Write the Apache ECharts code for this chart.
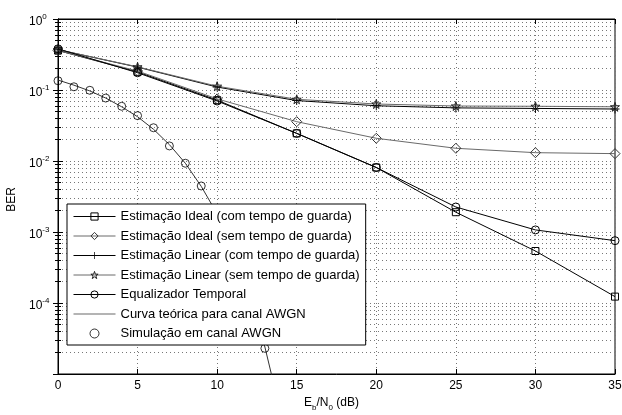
<!DOCTYPE html>
<html>
<head>
<meta charset="utf-8">
<script src="https://cdn.jsdelivr.net/npm/echarts@6/dist/echarts.min.js"></script>
<style>html,body{margin:0;padding:0;background:#fff}#c{width:622px;height:415px}</style>
</head>
<body>
<div id="c"></div>
<script>
// ---- data ----
var snrOfdm = [0, 5, 10, 15, 20, 25, 30, 35];
var idealCom = [0.36, 0.18, 0.072, 0.0245, 0.0081, 0.0019, 0.00054, 0.000123];
var idealSem = [0.36, 0.185, 0.075, 0.0358, 0.0209, 0.0151, 0.0131, 0.0127];
var linearCom = [0.37, 0.21, 0.11, 0.071, 0.060, 0.056, 0.055, 0.054];
var linearSem = [0.37, 0.212, 0.113, 0.074, 0.0635, 0.0595, 0.059, 0.058];
var equalizador = [0.38, 0.175, 0.070, 0.0245, 0.0081, 0.00225, 0.00107, 0.000755];
var snrAwgn = [0, 1, 2, 3, 4, 5, 6, 7, 8, 9, 10, 11, 12, 13, 14];
var awgnTeoria = [0.138, 0.117, 0.097, 0.077, 0.058, 0.042, 0.028, 0.017, 0.0093, 0.0044, 0.0018, 0.00057, 0.00014, 0.000024, 0.0000028];
var snrSim = [0, 1, 2, 3, 4, 5, 6, 7, 8, 9, 10, 11, 12, 13];
var awgnSim = [0.135, 0.111, 0.099, 0.077, 0.059, 0.0435, 0.0294, 0.0163, 0.0093, 0.00445, 0.0018, 0.00058, 0.00014, 0.000023];
var xTicks = [0, 5, 10, 15, 20, 25, 30, 35];
var seriesNames = [
  'Estimação Ideal (com tempo de guarda)',
  'Estimação Ideal (sem tempo de guarda)',
  'Estimação Linear (com tempo de guarda)',
  'Estimação Linear (sem tempo de guarda)',
  'Equalizador Temporal',
  'Curva teórica para canal AWGN',
  'Simulação em canal AWGN'
];

function pairs(xs, ys) { return xs.map(function (x, i) { return [x, ys[i]]; }); }

var FONT = 'Liberation Sans';
var BLACK = '#000';
var GRAY = '#6a6a6a';
var NOFILL = 'rgba(255,255,255,0)';
var plusPath = 'path://M4.5,0H5.5V4.5H10V5.5H5.5V10H4.5V5.5H0V4.5H4.5Z';
var starPath = 'path://M0,-1L0.2245,-0.309L0.951,-0.309L0.363,0.118L0.588,0.809L0,0.382L-0.588,0.809L-0.363,0.118L-0.951,-0.309L-0.2245,-0.309Z';

var gridDot = { color: '#777', width: 1, type: [1, 3] };

function supLabel(v) {
  var e = Math.round(Math.log10(v));
  return '{b|10}{s|' + e + '}';
}
var supRich = {
  b: { fontSize: 12, fontFamily: FONT, color: '#000', lineHeight: 12, padding: [5, 0, 0, 0] },
  s: { fontSize: 8, fontFamily: FONT, color: '#000', lineHeight: 8, verticalAlign: 'top' }
};

function lineSeries(name, ys, color, symbol, fill, stroke, size) {
  return {
    name: name, type: 'line', data: pairs(snrOfdm, ys),
    symbol: symbol, symbolSize: size, showAllSymbol: true,
    lineStyle: { color: color, width: 1 },
    itemStyle: { color: fill, borderColor: stroke, borderWidth: stroke ? 1 : 0 },
    emphasis: { disabled: true }, animation: false, z: 3
  };
}

var option = {
  animation: false,
  backgroundColor: '#fff',
  textStyle: { fontFamily: FONT },
  grid: { left: 58, right: 7, top: 19, bottom: 41, show: true, borderColor: '#000', borderWidth: 1, backgroundColor: 'transparent', containLabel: false, outerBoundsMode: 'none' },
  legend: {
    orient: 'vertical', left: 67, top: 204,
    backgroundColor: '#fff', borderColor: '#000', borderWidth: 1, borderRadius: 0,
    padding: [6, 6, 5, 6],
    itemWidth: 42, itemHeight: 9, itemGap: 6.5,
    lineStyle: { width: 1 },
    itemStyle: { borderWidth: 1 },
    textStyle: { fontFamily: FONT, fontSize: 13, color: '#000' },
    selectedMode: false,
    data: seriesNames.map(function (n, i) {
      if (i === 5) return { name: n, icon: 'path://M0,0H42V1H0Z', itemStyle: { color: GRAY, borderWidth: 0 } };
      return { name: n };
    })
  },
  xAxis: [{
    type: 'value', min: 0, max: 35, interval: 5,
    name: '{b|E}{s|b}{b|/N}{s|0}{b| (dB)}', nameLocation: 'middle', nameGap: 25,
    nameTextStyle: {
      padding: [0, 10, 0, 0],
      rich: {
        b: { fontSize: 12, fontFamily: FONT, color: '#000', lineHeight: 12, padding: [0, 0, 6, 0] },
        s: { fontSize: 8, fontFamily: FONT, color: '#000', lineHeight: 8, verticalAlign: 'bottom' }
      }
    },
    axisLine: { show: true, lineStyle: { color: '#000' } },
    axisTick: { inside: true, length: 5, lineStyle: { color: '#000' } },
    axisLabel: { color: '#000', fontSize: 12, fontFamily: FONT, margin: 6 },
    splitLine: { show: true, lineStyle: gridDot }
  }, {
    type: 'value', min: 0, max: 35, interval: 5, position: 'top',
    axisLine: { show: true, lineStyle: { color: '#000' } },
    axisTick: { inside: true, length: 5, lineStyle: { color: '#000' } },
    axisLabel: { show: false }, splitLine: { show: false }
  }],
  yAxis: [{
    type: 'log', logBase: 10, min: 1e-5, max: 1,
    name: 'BER', nameLocation: 'middle', nameGap: 38,
    nameTextStyle: { color: '#000', fontSize: 12, fontFamily: FONT, padding: [0, 6, 0, 0] },
    axisLine: { show: true, lineStyle: { color: '#000' } },
    axisTick: { inside: true, length: 5, lineStyle: { color: '#000' } },
    minorTick: { show: true, splitNumber: 9, length: 3, lineStyle: { color: '#000' } },
    axisLabel: { align: 'left', margin: 29, formatter: supLabel, rich: supRich, showMinLabel: false },
    splitLine: { show: true, lineStyle: gridDot },
    minorSplitLine: { show: true, lineStyle: gridDot }
  }, {
    type: 'log', logBase: 10, min: 1e-5, max: 1, position: 'right',
    axisLine: { show: true, lineStyle: { color: '#000' } },
    axisTick: { inside: true, length: 5, lineStyle: { color: '#000' } },
    minorTick: { show: true, splitNumber: 9, length: 3, lineStyle: { color: '#000' } },
    axisLabel: { show: false }, splitLine: { show: false }
  }],
  series: [
    lineSeries(seriesNames[0], idealCom, BLACK, 'rect', NOFILL, BLACK, 7),
    lineSeries(seriesNames[1], idealSem, GRAY, 'diamond', NOFILL, '#333', 10),
    lineSeries(seriesNames[2], linearCom, BLACK, plusPath, BLACK, null, 9),
    lineSeries(seriesNames[3], linearSem, GRAY, starPath, NOFILL, '#222', 9),
    lineSeries(seriesNames[4], equalizador, BLACK, 'circle', NOFILL, BLACK, 8),
    {
      name: seriesNames[5], type: 'line', data: pairs(snrAwgn, awgnTeoria),
      symbol: 'none', showSymbol: false, clip: true,
      lineStyle: { color: '#333', width: 1 }, itemStyle: { color: GRAY },
      emphasis: { disabled: true }, z: 3
    },
    {
      name: seriesNames[6], type: 'scatter', data: pairs(snrSim, awgnSim),
      symbol: 'circle', symbolSize: 8,
      itemStyle: { color: NOFILL, borderColor: BLACK, borderWidth: 1 },
      emphasis: { disabled: true }, z: 3
    }
  ]
};

var chart = echarts.init(document.getElementById('c'), null, { renderer: 'canvas' });
chart.setOption(option);
</script>
</body>
</html>
